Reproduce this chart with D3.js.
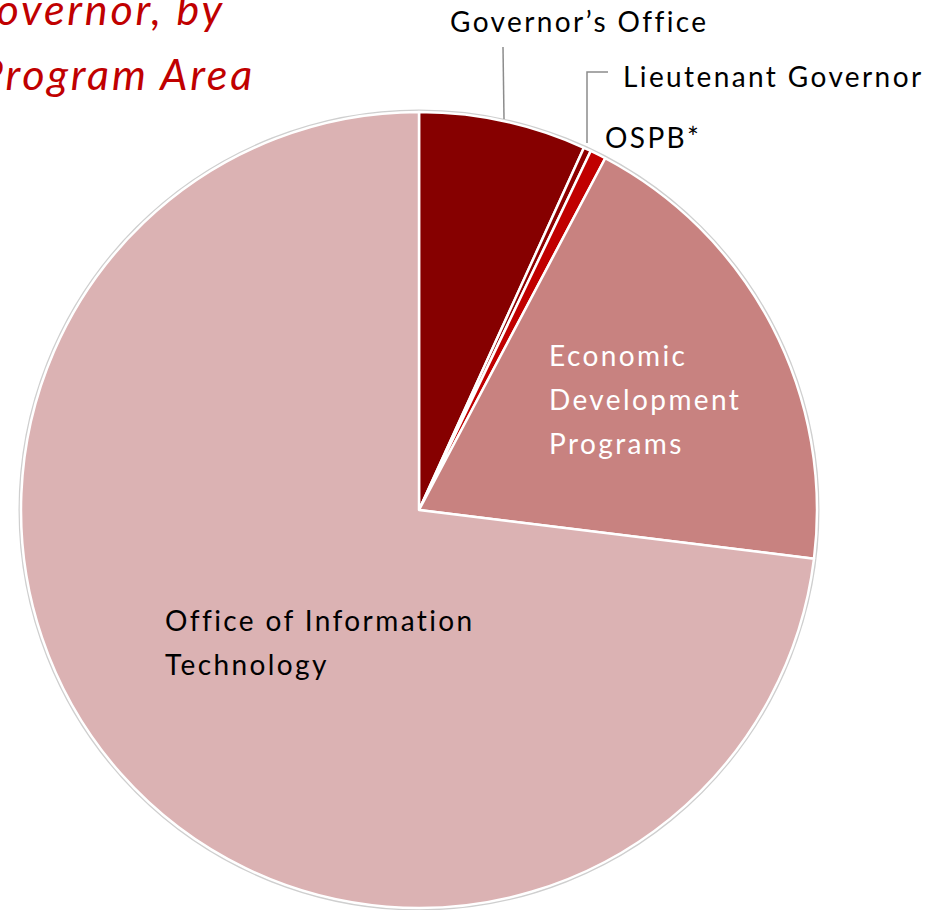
<!DOCTYPE html>
<html lang="en">
<head>
  <meta charset="UTF-8">
  <title>Governor by Program Area</title>
  <script src="https://d3js.org/d3.v7.min.js"></script>
  <style>
    body { margin: 0; background: #fff; }
    svg { display: block; font-family: Lato, "Noto Sans", sans-serif; }
  </style>
</head>
<body>
<div id="chart"></div>
<script>
// slice data, clockwise from 12 o'clock
var categories = ["Governor's Office", "Lieutenant Governor", "OSPB*", "Economic Development Programs", "Office of Information Technology"];
var shares = [6.8, 0.3, 0.65, 19.2, 73.05];
var colours = ["#860000", "#8e0000", "#c00000", "#c88280", "#dbb2b3"];

var width = 948, height = 910;
var cx = 419, cy = 510, radius = 398;

var svg = d3.select("#chart").append("svg")
  .attr("width", width)
  .attr("height", height);

// title, cut off at the left edge like the original slide
svg.append("g")
  .attr("fill", "#c00000")
  .attr("font-style", "italic")
  .attr("font-size", "43px")
  .attr("letter-spacing", "2.8px")
  .attr("text-anchor", "end")
  .selectAll("text")
  .data(["Governor, by", "Program Area"])
  .join("text")
    .attr("x", function(d, i){ return i == 0 ? 225 : 255; })
    .attr("y", function(d, i){ return 25 + i * 65; })
    .text(function(d){ return d; });

var pie = d3.pie().sort(null).value(function(d){ return d; });
var arc = d3.arc().innerRadius(0).outerRadius(radius);

var g = svg.append("g").attr("transform", "translate(" + cx + "," + cy + ")");

// faint rim shadow
g.append("circle")
  .attr("r", radius + 1.5)
  .attr("fill", "none")
  .attr("stroke", "#cfcfcf")
  .attr("stroke-width", 2);

g.selectAll("path")
  .data(pie(shares))
  .join("path")
    .attr("d", arc)
    .attr("fill", function(d, i){ return colours[i]; })
    .attr("stroke", "#fff")
    .attr("stroke-width", 2.5)
    .attr("stroke-linejoin", "round");

// leader lines for the small slices
var leaders = [
  [[503, 47], [504, 119]],
  [[608, 72], [587, 72], [587, 143]]
];
svg.selectAll("path.leader")
  .data(leaders)
  .join("path")
    .attr("class", "leader")
    .attr("d", d3.line())
    .attr("fill", "none")
    .attr("stroke", "#8c8c8c")
    .attr("stroke-width", 1.5);

// labels
var labels = [
  {lines: ["Governor\u2019s Office"], x: 450, y: 32, fill: "#000"},
  {lines: ["Lieutenant Governor"], x: 623, y: 87, fill: "#000"},
  {lines: ["OSPB*"], x: 605, y: 148, fill: "#000"},
  {lines: ["Economic", "Development", "Programs"], x: 549, y: 366, fill: "#fff"},
  {lines: ["Office of Information", "Technology"], x: 165, y: 631, fill: "#000"}
];
labels.forEach(function(l){
  var t = svg.append("text")
    .attr("x", l.x)
    .attr("y", l.y)
    .attr("font-size", "28px")
    .attr("letter-spacing", "2.4px")
    .attr("fill", l.fill);
  l.lines.forEach(function(s, i){
    t.append("tspan")
      .attr("x", l.x)
      .attr("dy", i == 0 ? 0 : 44)
      .text(s);
  });
});
</script>
</body>
</html>
